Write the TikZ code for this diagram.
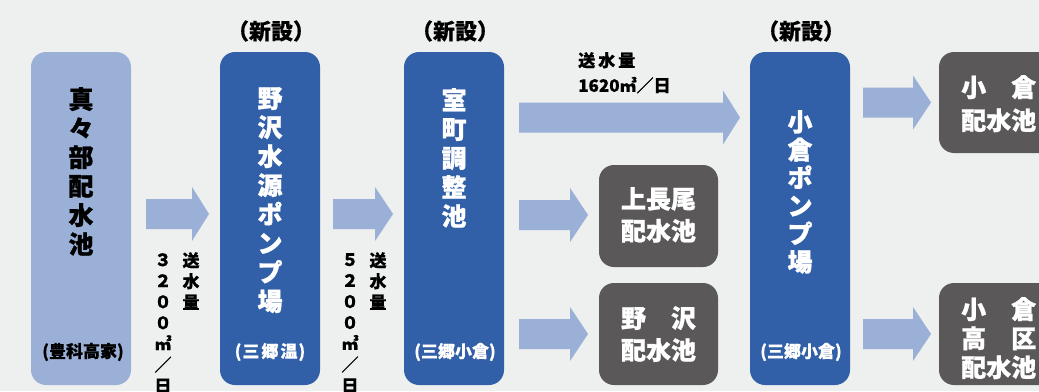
\documentclass[tikz,border=0pt]{standalone}
\usepackage{fontspec}
\setmainfont{Noto Sans CJK JP}[BoldFeatures={FakeBold=1}]
\newfontfamily\smallbf{Noto Sans CJK JP}[BoldFeatures={FakeBold=0.4}]
\definecolor{bgc}{RGB}{238,239,239}
\definecolor{lblue}{RGB}{154,176,214}
\definecolor{dblue}{RGB}{50,96,168}
\definecolor{dgray}{RGB}{90,88,89}
\tikzset{
  bigbox/.style={rounded corners=15pt, minimum width=100pt, minimum height=333pt, inner sep=0, draw=none},
  graybox/.style={rounded corners=15pt, fill=dgray, minimum width=119pt, minimum height=102pt, inner sep=0, draw=none},
  boxtext/.style={font=\bfseries\fontsize{25}{29}\selectfont, align=center, inner sep=0, anchor=north},
  subtext/.style={font=\smallbf\bfseries\fontsize{17}{20}\selectfont, inner sep=0},
  newtext/.style={font=\smallbf\bfseries\fontsize{22}{24}\selectfont, inner sep=0, text=black},
  vtext/.style={font=\smallbf\bfseries\fontsize{17}{21}\selectfont, align=center, inner sep=0, anchor=north, text=black},
  graytext/.style={font=\bfseries\fontsize{25}{32}\selectfont, align=center, inner sep=0, anchor=north, text=white},
  rtext/.style={font=\bfseries\fontsize{25}{29}\selectfont, align=left, inner sep=0, anchor=north west, text=white},
  arrowfill/.style={fill=lblue}
}
\newcommand\blkarrow[4]{\fill[arrowfill] (#1,#4-15) -- (#2,#4-15) -- (#2,#4-27) -- (#3,#4) -- (#2,#4+27) -- (#2,#4+15) -- (#1,#4+15) -- cycle;}
\begin{document}
\begin{tikzpicture}[x=1pt,y=-1pt]
\fill[bgc] (0,0) rectangle (1039,391);
\useasboundingbox (0,0) rectangle (1039,391);

% big boxes
\node[bigbox, fill=lblue] (mama) at (81,218.5) {};
\node[bigbox, fill=dblue] (nozawa) at (270,218.5) {};
\node[bigbox, fill=dblue] (muro) at (454,218.5) {};
\node[bigbox, fill=dblue] (ogura) at (800,218.5) {};

% gray boxes
\node[graybox] (kami) at (658.5,216) {};
\node[graybox] (noz) at (658.5,334) {};
\node[graybox, minimum width=130pt, minimum height=101pt] (ogh) at (1004,102.5) {};
\node[graybox, minimum width=130pt] (ogk) at (1004,334) {};

% box texts
\node[boxtext, text=black] (t1) at (81,87) {真\\々\\部\\配\\水\\池};
\node[boxtext, text=white] (t2) at (270,87) {野\\沢\\水\\源\\ポ\\ン\\プ\\場};
\node[boxtext, text=white] (t3) at (454,88) {室\\町\\調\\整\\池};
\node[boxtext, text=white, font=\bfseries\fontsize{25}{28}\selectfont] (t4) at (800,110) {小\\倉\\ポ\\ン\\プ\\場};

\node[subtext, text=black] (s1) at (83,352) {(豊科高家)};
\node[subtext, text=white] (s2) at (270,352) {(\hspace{1pt}三\hspace{2pt}郷\hspace{2pt}温\hspace{1pt})};
\node[subtext, text=white] (s3) at (455,352) {(三郷小倉)};
\node[subtext, text=white] (s4) at (801,352) {(三郷小倉)};

% (新設)
\node[newtext] (n2) at (271,31) {（新設）};
\node[newtext] (n3) at (455,31) {（新設）};
\node[newtext] (n4) at (801,31) {（新設）};

% gray texts
\node[graytext] (g1) at (658.5,187) {上長尾\\配水池};
\node[graytext] (g2) at (658.5,306) {野　沢\\配水池};
\node[rtext, font=\bfseries\fontsize{25}{33}\selectfont] (g3) at (961,75) {小　倉\\配水池};
\node[rtext] (g4) at (961,297) {小　倉\\高　区\\配水池};

% arrows
\blkarrow{146}{192}{209}{214}
\blkarrow{333}{375}{393}{214}
\blkarrow{519}{570}{588}{215}
\blkarrow{519}{570}{588}{334}
\blkarrow{519}{723}{740}{117.5}
\blkarrow{863}{913}{931}{102.5}
\blkarrow{863}{913}{931}{334}

% flow rates
\node[vtext] (r1a) at (191,252) {送\\水\\量};
\node[vtext] (r1b) at (163,253) {３\\２\\０\\０\\㎥\\／\\日};
\node[vtext] (r2a) at (378,252) {送\\水\\量};
\node[vtext] (r2b) at (350,253) {５\\２\\０\\０\\㎥\\／\\日};
\node[font=\smallbf\bfseries\fontsize{17}{25}\selectfont, align=left, inner sep=0, anchor=north west, text=black] (r3) at (578,52) {送\hspace{3pt}水\hspace{3pt}量\\1620㎥／日};
\end{tikzpicture}
\end{document}
